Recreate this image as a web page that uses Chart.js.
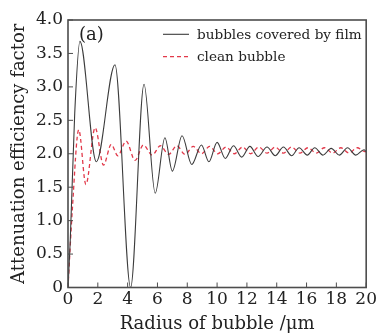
<!DOCTYPE html>
<html>
<head>
<meta charset="utf-8">
<script src="https://cdn.jsdelivr.net/npm/chart.js@4"></script>
<style>
  html, body { margin: 0; padding: 0; background: #fff; }
  #wrap { width: 379px; height: 333px; }
</style>
</head>
<body>
<div id="wrap"><canvas id="chart" width="379" height="333"></canvas></div>
<script>
// bubbles covered by film (radius in um, attenuation factor)
const filmR = [0, 0.15, 0.45, 0.8, 1.9, 3.15, 4.2, 5.1, 5.85, 6.5, 7.0, 7.65, 8.3, 8.95, 9.45, 10.0,
  10.55, 11.1, 11.65, 12.2, 12.75, 13.35, 13.9, 14.45, 15.0, 15.5, 16.05, 16.55, 17.1, 17.65,
  18.2, 18.75, 19.3, 19.85, 20];
const filmQ = [0, 0.7, 2.6, 3.68, 1.88, 3.33, 0.0, 3.04, 1.41, 2.24, 1.74, 2.27, 1.84, 2.13, 1.88, 2.17,
  1.93, 2.12, 1.95, 2.11, 1.96, 2.10, 1.97, 2.10, 1.97, 2.09, 1.98, 2.09, 1.98, 2.08,
  1.98, 2.09, 1.98, 2.06, 2.03];

// clean bubble
const cleanR = [0, 0.3, 0.72, 1.2, 1.82, 2.38, 2.9, 3.34, 3.9, 4.5, 5.05, 5.65, 6.2, 6.75, 7.3, 7.85,
  8.4, 8.95, 9.5, 10.05, 10.6, 11.15, 11.7, 12.25, 12.8, 13.35, 13.9, 14.45, 15.0, 15.55,
  16.1, 16.65, 17.2, 17.75, 18.3, 18.85, 19.4, 19.95, 20];
const cleanQ = [0, 1.2, 2.36, 1.54, 2.39, 1.83, 2.14, 1.97, 2.19, 1.90, 2.13, 1.98, 2.12, 1.99, 2.12, 1.99,
  2.11, 2.0, 2.11, 2.0, 2.1, 2.0, 2.1, 2.0, 2.1, 2.01, 2.1, 2.01, 2.1, 2.01,
  2.09, 2.01, 2.09, 2.01, 2.09, 2.01, 2.09, 2.03, 2.05];

const seriesNames = ["bubbles covered by film", "clean bubble"];
const panelLabel = "(a)";
const xTitle = "Radius of bubble /\u03bcm";
const yTitle = "Attenuation efficiency factor";

const SERIF = "'DejaVu Serif', serif";

function toPoints(xs, ys) {
  return xs.map((x, i) => ({ x, y: ys[i] }));
}

// frame, inward ticks, panel label and legend
const decor = {
  id: "decor",
  afterDraw(chart) {
    const { ctx, chartArea: a, scales } = chart;
    ctx.save();
    ctx.strokeStyle = "#4d4d4d";
    ctx.lineWidth = 1;
    scales.x.ticks.forEach((t, i) => {
      const px = scales.x.getPixelForTick(i);
      ctx.beginPath(); ctx.moveTo(px, a.bottom); ctx.lineTo(px, a.bottom - 5); ctx.stroke();
    });
    scales.y.ticks.forEach((t, i) => {
      const py = scales.y.getPixelForTick(i);
      ctx.beginPath(); ctx.moveTo(a.left, py); ctx.lineTo(a.left + 5, py); ctx.stroke();
    });
    ctx.lineWidth = 1.6;
    ctx.strokeRect(a.left, a.top, a.right - a.left, a.bottom - a.top);

    ctx.fillStyle = "#222";
    ctx.textBaseline = "alphabetic";
    ctx.font = "18px " + SERIF;
    ctx.fillText(panelLabel, 79, 39.5);

    ctx.font = "13.6px " + SERIF;
    const rows = [{ y: 34.3, base: 38.5 }, { y: 56.7, base: 60.5 }];
    chart.data.datasets.forEach((ds, i) => {
      ctx.strokeStyle = ds.borderColor;
      ctx.lineWidth = ds.borderWidth;
      ctx.setLineDash(ds.borderDash || []);
      ctx.beginPath(); ctx.moveTo(163, rows[i].y); ctx.lineTo(189, rows[i].y); ctx.stroke();
      ctx.setLineDash([]);
      ctx.fillText(ds.label, 197, rows[i].base);
    });
    ctx.restore();
  }
};

const ctx = document.getElementById("chart").getContext("2d");
new Chart(ctx, {
  type: "line",
  data: {
    datasets: [
      {
        label: seriesNames[0],
        data: toPoints(filmR, filmQ),
        borderColor: "#3c3c3c",
        borderWidth: 1.1,
        pointRadius: 0,
        cubicInterpolationMode: "monotone"
      },
      {
        label: seriesNames[1],
        data: toPoints(cleanR, cleanQ),
        borderColor: "#e2394a",
        borderWidth: 1.3,
        borderDash: [4, 3],
        pointRadius: 0,
        cubicInterpolationMode: "monotone"
      }
    ]
  },
  options: {
    responsive: false,
    animation: false,
    layout: { padding: { left: 0, right: 12, top: 20, bottom: 0 } },
    plugins: { legend: { display: false }, tooltip: { enabled: false } },
    scales: {
      x: {
        type: "linear",
        min: 0, max: 20,
        afterFit: s => { s.height = 45.5; },
        grid: { display: false, drawTicks: false },
        border: { display: false },
        ticks: { stepSize: 2, padding: 2, color: "#222", font: { family: SERIF, size: 17 } },
        title: { display: true, text: xTitle, color: "#222", padding: 0,
          font: { family: SERIF, size: 18, lineHeight: 1 } }
      },
      y: {
        min: 0, max: 4,
        afterFit: s => { s.width = 68; },
        grid: { display: false, drawTicks: false },
        border: { display: false },
        ticks: {
          stepSize: 0.5, padding: 5, color: "#222", font: { family: SERIF, size: 17 },
          callback: v => v === 0 ? "0" : v.toFixed(1)
        },
        title: { display: true, text: yTitle, color: "#222", padding: { top: 10.5, bottom: 0 },
          font: { family: SERIF, size: 18, lineHeight: 1 } }
      }
    }
  },
  plugins: [decor]
});
</script>
</body>
</html>
